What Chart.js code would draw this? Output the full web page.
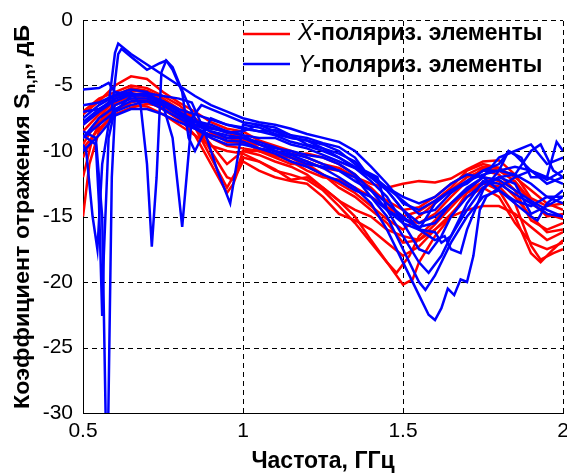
<!DOCTYPE html>
<html>
<head>
<meta charset="utf-8">
<script src="https://cdn.jsdelivr.net/npm/chart.js@4"></script>
<style>
  html, body { margin: 0; padding: 0; background: #fff; }
  canvas { display: block; }
</style>
</head>
<body>
<canvas id="chart_refl" width="567" height="475"></canvas>
<script>
// frequency, GHz / reflection, dB  -- [f, S] pairs
const xTicks = [0.5, 1, 1.5, 2];
const yTicks = [0, -5, -10, -15, -20, -25, -30];

// X-polarized elements (red)
const red1 = [[0.5,-7.2],[0.55,-6.2],[0.6,-5.0],[0.65,-4.3],[0.7,-4.5],[0.75,-5.5],[0.8,-6.3],[0.85,-7.0],[0.9,-7.8],[0.95,-8.3],[1.0,-8.5],[1.05,-9.2],[1.1,-9.6],[1.15,-10.0],[1.2,-10.5],[1.25,-11.0],[1.3,-11.3],[1.35,-12.0],[1.4,-12.5],[1.45,-12.8],[1.5,-12.5],[1.55,-12.3],[1.6,-12.4],[1.65,-12.1],[1.7,-11.4],[1.75,-10.8],[1.8,-10.7],[1.85,-11.8],[1.9,-13.6],[1.95,-14.2],[2.0,-14.0]];
const red2 = [[0.5,-8.0],[0.55,-7.0],[0.6,-5.8],[0.65,-5.2],[0.7,-5.4],[0.75,-6.0],[0.8,-6.8],[0.85,-7.6],[0.9,-8.2],[0.95,-8.6],[1.0,-9.0],[1.05,-9.8],[1.1,-10.4],[1.15,-10.5],[1.2,-11.2],[1.25,-11.8],[1.3,-12.5],[1.35,-13.2],[1.4,-14.2],[1.45,-15.2],[1.5,-16.0],[1.55,-15.0],[1.6,-14.0],[1.65,-13.0],[1.7,-12.0],[1.75,-11.5],[1.8,-11.8],[1.85,-13.0],[1.9,-15.3],[1.95,-16.0],[2.0,-15.5]];
const red3 = [[0.5,-9.5],[0.55,-7.5],[0.6,-6.0],[0.65,-5.6],[0.7,-5.8],[0.75,-6.5],[0.8,-7.3],[0.85,-8.2],[0.9,-10.5],[0.95,-12.8],[0.98,-11.5],[1.0,-10.0],[1.05,-10.3],[1.1,-10.8],[1.15,-11.2],[1.2,-11.8],[1.25,-12.8],[1.3,-13.8],[1.35,-15.0],[1.4,-16.8],[1.45,-18.5],[1.5,-20.2],[1.53,-19.8],[1.55,-18.5],[1.6,-16.5],[1.65,-15.0],[1.7,-13.2],[1.75,-12.5],[1.8,-12.7],[1.85,-14.0],[1.9,-17.2],[1.93,-18.3],[1.97,-17.8],[2.0,-17.5]];
const red4 = [[0.5,-10.5],[0.55,-8.0],[0.6,-6.5],[0.65,-6.0],[0.7,-6.2],[0.75,-6.8],[0.8,-7.5],[0.85,-8.8],[0.9,-11.0],[0.95,-13.2],[0.97,-12.5],[1.0,-10.5],[1.05,-10.8],[1.1,-11.5],[1.15,-11.8],[1.2,-12.2],[1.25,-13.0],[1.3,-14.2],[1.35,-15.5],[1.4,-17.0],[1.45,-18.5],[1.48,-19.3],[1.52,-18.0],[1.55,-16.5],[1.6,-15.3],[1.65,-14.0],[1.7,-13.0],[1.75,-12.4],[1.8,-13.0],[1.85,-15.0],[1.9,-17.8],[1.93,-18.5],[1.97,-17.5],[2.0,-16.8]];
const red5 = [[0.5,-15.0],[0.52,-11.0],[0.55,-8.5],[0.6,-7.0],[0.65,-6.3],[0.7,-6.0],[0.75,-6.4],[0.8,-7.0],[0.85,-8.0],[0.9,-9.5],[0.95,-11.0],[1.0,-10.0],[1.05,-10.0],[1.1,-10.5],[1.15,-11.0],[1.2,-11.0],[1.25,-11.8],[1.3,-12.8],[1.35,-13.5],[1.4,-14.5],[1.45,-15.5],[1.5,-17.0],[1.55,-16.8],[1.6,-15.6],[1.65,-14.3],[1.7,-13.0],[1.75,-12.0],[1.8,-12.3],[1.85,-13.5],[1.9,-15.0],[1.95,-16.2],[2.0,-16.0]];
const red6 = [[0.5,-12.0],[0.53,-9.0],[0.56,-7.5],[0.6,-6.3],[0.65,-5.8],[0.7,-6.0],[0.75,-6.8],[0.8,-7.6],[0.85,-8.3],[0.9,-8.8],[0.95,-9.0],[1.0,-9.2],[1.05,-10.0],[1.1,-10.2],[1.15,-10.5],[1.2,-10.8],[1.25,-11.3],[1.3,-11.5],[1.35,-12.0],[1.4,-12.8],[1.45,-14.0],[1.5,-15.2],[1.55,-15.5],[1.6,-14.8],[1.65,-13.5],[1.7,-12.3],[1.75,-11.3],[1.8,-11.5],[1.85,-12.3],[1.9,-13.8],[1.95,-15.0],[2.0,-14.8]];
const red7 = [[0.5,-9.0],[0.55,-7.8],[0.6,-6.8],[0.65,-6.5],[0.7,-6.6],[0.75,-7.2],[0.8,-8.0],[0.85,-8.8],[0.9,-9.6],[0.95,-10.0],[1.0,-10.2],[1.05,-10.8],[1.1,-11.4],[1.15,-12.2],[1.2,-12.0],[1.25,-12.8],[1.3,-13.8],[1.35,-14.5],[1.4,-15.0],[1.45,-16.0],[1.5,-16.5],[1.55,-16.8],[1.6,-16.0],[1.65,-15.0],[1.7,-14.5],[1.75,-14.2],[1.8,-14.2],[1.85,-14.8],[1.9,-15.8],[1.95,-16.8],[2.0,-16.2]];
const red8 = [[0.5,-7.0],[0.55,-6.0],[0.6,-5.5],[0.65,-5.0],[0.7,-5.2],[0.75,-5.8],[0.8,-6.5],[0.85,-7.5],[0.9,-8.6],[0.95,-9.3],[1.0,-9.4],[1.05,-9.5],[1.1,-10.0],[1.15,-10.3],[1.2,-10.2],[1.25,-10.5],[1.3,-11.0],[1.35,-11.8],[1.4,-13.0],[1.45,-13.8],[1.5,-14.5],[1.55,-14.3],[1.6,-13.5],[1.65,-12.5],[1.7,-11.8],[1.75,-11.2],[1.8,-11.3],[1.85,-12.4],[1.9,-14.0],[1.95,-14.8],[2.0,-15.2]];
const red9 = [[0.5,-8.5],[0.55,-7.2],[0.6,-6.0],[0.65,-5.4],[0.7,-5.5],[0.75,-6.2],[0.8,-7.0],[0.85,-8.0],[0.9,-10.0],[0.95,-12.0],[0.97,-12.2],[1.0,-10.8],[1.05,-11.5],[1.1,-12.0],[1.15,-12.3],[1.2,-12.5],[1.25,-13.5],[1.3,-14.8],[1.35,-15.3],[1.4,-16.0],[1.45,-17.0],[1.5,-18.0],[1.55,-17.3],[1.6,-16.0],[1.65,-14.8],[1.7,-13.5],[1.75,-12.8],[1.8,-13.5],[1.85,-15.5],[1.9,-17.0],[1.95,-17.5],[2.0,-17.0]];
const red10 = [[0.5,-9.8],[0.55,-8.3],[0.6,-7.2],[0.65,-6.7],[0.7,-6.4],[0.75,-6.6],[0.8,-7.3],[0.85,-8.2],[0.9,-9.0],[0.95,-9.6],[1.0,-9.8],[1.05,-10.0],[1.1,-10.3],[1.15,-10.8],[1.2,-11.5],[1.25,-12.0],[1.3,-12.2],[1.35,-12.8],[1.4,-13.5],[1.45,-14.3],[1.5,-15.0],[1.55,-14.6],[1.6,-13.8],[1.65,-12.8],[1.7,-11.5],[1.75,-11.0],[1.8,-11.3],[1.85,-12.0],[1.9,-13.0],[1.95,-14.0],[2.0,-14.5]];

// Y-polarized elements (blue)
const blue1 = [[0.5,-8.0],[0.55,-7.0],[0.58,-6.5],[0.6,-2.5],[0.61,-1.8],[0.65,-2.6],[0.7,-3.4],[0.75,-4.2],[0.8,-5.0],[0.85,-5.8],[0.9,-6.5],[0.95,-7.0],[1.0,-7.5],[1.05,-7.8],[1.1,-8.0],[1.15,-8.3],[1.2,-8.7],[1.25,-9.0],[1.3,-9.3],[1.35,-10.0],[1.4,-11.2],[1.45,-12.5],[1.5,-14.0],[1.55,-14.5],[1.6,-13.8],[1.65,-13.0],[1.7,-12.3],[1.75,-11.8],[1.8,-11.5],[1.85,-11.2],[1.9,-11.5],[1.95,-12.0],[2.0,-12.5]];
const blue2 = [[0.5,-9.0],[0.55,-7.5],[0.59,-6.8],[0.61,-2.6],[0.62,-2.2],[0.65,-2.8],[0.7,-3.8],[0.74,-3.3],[0.76,-3.1],[0.78,-3.8],[0.81,-5.5],[0.83,-9.0],[0.85,-10.0],[0.88,-8.5],[0.9,-7.5],[0.95,-8.0],[1.0,-8.2],[1.05,-8.5],[1.1,-8.4],[1.15,-8.8],[1.2,-9.5],[1.25,-9.8],[1.3,-10.2],[1.35,-10.8],[1.4,-12.0],[1.45,-13.0],[1.5,-14.5],[1.55,-15.5],[1.6,-15.0],[1.65,-14.0],[1.7,-13.0],[1.75,-12.0],[1.8,-10.5],[1.85,-10.0],[1.9,-9.5],[1.95,-11.0],[2.0,-10.5]];
const blue3 = [[0.5,-7.5],[0.55,-6.5],[0.6,-5.8],[0.65,-5.5],[0.68,-6.5],[0.7,-11.0],[0.715,-17.3],[0.73,-12.0],[0.745,-4.0],[0.76,-3.1],[0.78,-3.6],[0.8,-4.8],[0.83,-6.5],[0.86,-8.0],[0.9,-8.3],[0.95,-8.5],[1.0,-8.8],[1.05,-9.0],[1.1,-9.0],[1.15,-9.5],[1.2,-9.8],[1.25,-10.3],[1.3,-10.8],[1.35,-11.3],[1.4,-12.3],[1.45,-13.5],[1.5,-15.5],[1.55,-17.5],[1.58,-17.8],[1.62,-16.5],[1.65,-15.0],[1.7,-13.5],[1.75,-12.5],[1.8,-12.0],[1.85,-11.8],[1.9,-12.5],[1.95,-13.5],[2.0,-14.0]];
const blue4 = [[0.5,-6.5],[0.55,-6.3],[0.6,-5.7],[0.65,-5.3],[0.7,-5.5],[0.75,-6.5],[0.78,-9.0],[0.8,-13.5],[0.81,-15.8],[0.82,-13.0],[0.84,-7.5],[0.87,-6.5],[0.9,-6.8],[0.95,-7.3],[1.0,-7.8],[1.05,-8.0],[1.1,-8.5],[1.15,-9.0],[1.2,-9.2],[1.25,-9.5],[1.3,-10.0],[1.35,-11.0],[1.4,-12.0],[1.45,-12.8],[1.5,-13.5],[1.55,-14.0],[1.6,-13.5],[1.65,-12.5],[1.7,-11.8],[1.75,-12.0],[1.8,-13.0],[1.85,-14.0],[1.9,-15.0],[1.92,-15.3],[1.95,-14.0],[2.0,-13.0]];
const blue5 = [[0.5,-8.5],[0.54,-9.0],[0.56,-15.0],[0.572,-32],[0.578,-32],[0.59,-12.0],[0.6,-7.0],[0.65,-5.8],[0.7,-5.7],[0.75,-6.2],[0.8,-7.0],[0.85,-7.7],[0.9,-8.0],[0.95,-8.5],[1.0,-8.8],[1.05,-9.5],[1.1,-9.8],[1.15,-10.0],[1.2,-10.3],[1.25,-10.5],[1.3,-11.0],[1.35,-11.8],[1.4,-13.0],[1.45,-14.5],[1.5,-16.5],[1.55,-18.5],[1.58,-19.3],[1.62,-18.0],[1.65,-16.5],[1.7,-14.0],[1.75,-12.3],[1.8,-12.5],[1.85,-13.3],[1.9,-14.0],[1.95,-14.8],[2.0,-15.0]];
const blue6 = [[0.5,-9.5],[0.51,-10.0],[0.53,-15.0],[0.545,-17.5],[0.56,-11.0],[0.58,-8.0],[0.6,-6.5],[0.65,-6.0],[0.7,-6.0],[0.75,-6.5],[0.8,-7.3],[0.85,-8.0],[0.9,-8.5],[0.95,-8.8],[1.0,-9.0],[1.05,-9.3],[1.1,-9.7],[1.15,-10.2],[1.2,-10.5],[1.25,-11.0],[1.3,-11.5],[1.35,-12.0],[1.4,-13.5],[1.45,-15.0],[1.5,-17.5],[1.55,-20.0],[1.57,-20.6],[1.6,-19.5],[1.65,-17.0],[1.7,-15.0],[1.75,-13.5],[1.8,-13.0],[1.85,-13.8],[1.9,-14.2],[1.95,-13.5],[2.0,-13.5]];
const blue7 = [[0.5,-8.8],[0.54,-9.5],[0.55,-14.0],[0.56,-22.6],[0.565,-18.0],[0.58,-9.0],[0.6,-6.8],[0.65,-6.2],[0.7,-6.2],[0.75,-6.8],[0.8,-7.5],[0.85,-8.2],[0.9,-8.8],[0.95,-9.2],[1.0,-9.3],[1.05,-9.8],[1.1,-10.0],[1.15,-10.5],[1.2,-11.0],[1.25,-11.2],[1.3,-11.5],[1.35,-12.3],[1.4,-13.0],[1.45,-14.0],[1.5,-15.0],[1.55,-16.0],[1.6,-16.2],[1.62,-17.0],[1.65,-16.5],[1.7,-14.5],[1.75,-12.8],[1.8,-12.0],[1.85,-12.5],[1.9,-14.8],[1.95,-14.2],[2.0,-13.5]];
const blue8 = [[0.5,-7.0],[0.55,-6.8],[0.6,-6.0],[0.65,-5.6],[0.7,-5.8],[0.75,-6.3],[0.8,-7.0],[0.85,-8.0],[0.9,-8.5],[0.95,-9.0],[1.0,-9.0],[1.05,-9.5],[1.1,-10.0],[1.15,-10.3],[1.2,-10.8],[1.25,-11.3],[1.3,-12.0],[1.35,-12.8],[1.4,-14.0],[1.45,-16.0],[1.5,-18.5],[1.55,-21.0],[1.58,-22.5],[1.6,-22.9],[1.62,-22.0],[1.64,-20.5],[1.66,-21.0],[1.68,-19.8],[1.7,-20.0],[1.72,-18.0],[1.74,-14.5],[1.76,-13.5],[1.8,-12.8],[1.85,-12.0],[1.9,-11.5],[1.95,-12.5],[2.0,-12.0]];
const blue9 = [[0.5,-7.8],[0.55,-6.8],[0.6,-6.2],[0.65,-5.7],[0.7,-5.6],[0.75,-5.8],[0.8,-6.0],[0.84,-6.3],[0.88,-8.5],[0.92,-11.5],[0.96,-14.0],[0.98,-11.0],[1.0,-8.0],[1.05,-8.2],[1.1,-8.7],[1.15,-9.0],[1.2,-9.2],[1.25,-9.8],[1.3,-10.5],[1.35,-11.3],[1.4,-12.0],[1.45,-13.0],[1.5,-14.5],[1.55,-16.0],[1.6,-16.8],[1.63,-16.5],[1.65,-17.5],[1.68,-17.8],[1.7,-16.0],[1.75,-13.0],[1.8,-11.5],[1.83,-10.0],[1.85,-10.3],[1.9,-11.5],[1.95,-12.2],[2.0,-11.5]];
const blue10 = [[0.5,-5.3],[0.55,-5.2],[0.58,-4.8],[0.6,-5.5],[0.65,-5.7],[0.7,-5.8],[0.75,-6.2],[0.8,-6.8],[0.85,-7.2],[0.9,-7.6],[0.95,-8.0],[1.0,-8.3],[1.05,-8.5],[1.1,-8.8],[1.15,-9.3],[1.2,-9.6],[1.25,-10.0],[1.3,-10.5],[1.35,-11.2],[1.4,-11.8],[1.45,-12.8],[1.5,-13.8],[1.55,-14.8],[1.6,-14.5],[1.65,-13.2],[1.7,-12.3],[1.75,-11.5],[1.8,-11.5],[1.85,-11.8],[1.9,-10.0],[1.93,-9.5],[1.97,-11.5],[2.0,-12.0]];
const blue11 = [[0.5,-9.0],[0.55,-8.0],[0.6,-7.0],[0.65,-6.5],[0.7,-6.2],[0.75,-6.5],[0.8,-7.2],[0.85,-7.8],[0.9,-8.2],[0.95,-8.6],[1.0,-8.5],[1.05,-8.0],[1.1,-8.2],[1.15,-8.8],[1.2,-9.0],[1.25,-9.4],[1.3,-9.7],[1.35,-10.5],[1.38,-11.5],[1.42,-12.0],[1.45,-14.5],[1.5,-15.5],[1.55,-16.0],[1.6,-14.0],[1.65,-13.0],[1.7,-12.5],[1.75,-11.5],[1.8,-11.0],[1.83,-10.0],[1.87,-10.5],[1.9,-12.0],[1.95,-12.0],[1.98,-9.3],[2.0,-10.0]];
const blue12 = [[0.5,-10.0],[0.55,-8.8],[0.6,-7.3],[0.65,-6.8],[0.7,-6.8],[0.75,-7.2],[0.8,-7.8],[0.85,-8.3],[0.9,-9.0],[0.95,-9.5],[1.0,-9.5],[1.05,-9.8],[1.1,-10.2],[1.15,-10.8],[1.2,-11.2],[1.25,-11.8],[1.3,-12.3],[1.35,-13.0],[1.4,-13.5],[1.45,-14.5],[1.5,-15.2],[1.55,-15.8],[1.6,-15.5],[1.65,-14.0],[1.7,-12.8],[1.75,-12.0],[1.8,-12.2],[1.85,-13.0],[1.9,-13.8],[1.95,-14.5],[2.0,-15.0]];

const redCurves = [red1, red2, red3, red4, red5, red6, red7, red8, red9, red10];
const blueCurves = [blue1, blue2, blue3, blue4, blue5, blue6, blue7, blue8, blue9, blue10, blue11, blue12];

const FONT = 'Arial, "Liberation Sans", sans-serif';

function toDataset(curve, color, order) {
    return {
        data: curve.map(p => ({ x: p[0], y: p[1] })),
        borderColor: color,
        backgroundColor: color,
        borderWidth: 2.5,
        pointRadius: 0,
        tension: 0,
        fill: false,
        clip: 0,
        order: order
    };
}

// dashed grid (matlab style), drawn under the curves
const dashedGrid = {
    id: 'dashedGrid',
    beforeDatasetsDraw(chart) {
        const ctx = chart.ctx;
        const a = chart.chartArea;
        const sx = chart.scales.x, sy = chart.scales.y;
        ctx.save();
        ctx.strokeStyle = '#000';
        ctx.lineWidth = 1;
        ctx.setLineDash([5, 4]);
        xTicks.slice(1).forEach(v => {
            const px = Math.round(sx.getPixelForValue(v)) + 0.5;
            ctx.beginPath();
            ctx.moveTo(px, a.bottom);
            ctx.lineTo(px, a.top);
            ctx.stroke();
        });
        yTicks.slice(0, -1).forEach(v => {
            const py = Math.round(sy.getPixelForValue(v)) + 0.5;
            ctx.beginPath();
            ctx.moveTo(a.left, py);
            ctx.lineTo(a.right, py);
            ctx.stroke();
        });
        ctx.restore();
    }
};

// legend + y title with subscript drawn by hand
const annotate = {
    id: 'annotate',
    afterDraw(chart) {
        const ctx = chart.ctx;
        ctx.save();

        const rows = [
            { color: '#ff0000', letter: 'X', y: 34, base: 40 },
            { color: '#0000ff', letter: 'Y', y: 64, base: 71.5 }
        ];
        rows.forEach(r => {
            ctx.strokeStyle = r.color;
            ctx.lineWidth = 2.5;
            ctx.beginPath();
            ctx.moveTo(243, r.y);
            ctx.lineTo(290, r.y);
            ctx.stroke();
            ctx.fillStyle = '#000';
            ctx.textBaseline = 'alphabetic';
            ctx.textAlign = 'left';
            ctx.font = 'italic 23px ' + FONT;
            ctx.fillText(r.letter, 298, r.base);
            const w = ctx.measureText(r.letter).width;
            ctx.font = 'bold 23px ' + FONT;
            ctx.fillText('-поляриз. элементы', 298 + w, r.base);
        });

        // y axis title, stretched to the length it has in the picture
        const main = 'Коэффициент отражения S';
        const sub = 'n,n';
        const tail = ', дБ';
        ctx.font = 'bold 22px ' + FONT;
        const w1 = ctx.measureText(main).width;
        const w3 = ctx.measureText(tail).width;
        ctx.font = 'bold 15px ' + FONT;
        const w2 = ctx.measureText(sub).width;
        const total = w1 + w2 + w3;
        const stretch = 384 / total;
        ctx.translate(29, 217);
        ctx.rotate(-Math.PI / 2);
        ctx.scale(stretch, 1);
        ctx.fillStyle = '#000';
        ctx.textBaseline = 'alphabetic';
        ctx.textAlign = 'left';
        let x = -total / 2;
        ctx.font = 'bold 22px ' + FONT;
        ctx.fillText(main, x, 0);
        x += w1;
        ctx.font = 'bold 15px ' + FONT;
        ctx.fillText(sub, x, 6);
        x += w2;
        ctx.font = 'bold 22px ' + FONT;
        ctx.fillText(tail, x, 0);
        ctx.restore();
    }
};

const datasets = []
    .concat(redCurves.map(c => toDataset(c, '#ff0000', 1)))
    .concat(blueCurves.map(c => toDataset(c, '#0000ff', 0)));

new Chart(document.getElementById('chart_refl'), {
    type: 'line',
    data: { datasets: datasets },
    plugins: [dashedGrid, annotate],
    options: {
        responsive: false,
        animation: false,
        layout: { padding: { top: 20, right: 4, left: 0, bottom: 0 } },
        plugins: {
            legend: { display: false },
            tooltip: { enabled: false }
        },
        scales: {
            x: {
                type: 'linear',
                min: 0.5,
                max: 2,
                afterBuildTicks: s => { s.ticks = xTicks.map(v => ({ value: v })); },
                ticks: {
                    color: '#000',
                    padding: 6,
                    maxRotation: 0,
                    font: { family: FONT, size: 21 },
                    callback: v => String(v)
                },
                grid: { display: false, drawTicks: false },
                border: { display: true, color: '#000', width: 1 },
                title: {
                    display: true,
                    text: 'Частота, ГГц',
                    color: '#000',
                    font: { family: FONT, size: 23, weight: 'bold' },
                    padding: { top: 0, bottom: 0 }
                },
                afterFit: s => { s.height = 62; s.paddingLeft = 0; s.paddingRight = 0; }
            },
            y: {
                min: -30,
                max: 0,
                afterBuildTicks: s => { s.ticks = yTicks.map(v => ({ value: v })); },
                ticks: {
                    color: '#000',
                    padding: 10,
                    font: { family: FONT, size: 21 },
                    callback: v => String(v)
                },
                grid: { display: false, drawTicks: false },
                border: { display: true, color: '#000', width: 1 },
                afterFit: s => { s.width = 83; s.paddingTop = 0; s.paddingBottom = 0; }
            }
        }
    }
});
</script>
</body>
</html>
